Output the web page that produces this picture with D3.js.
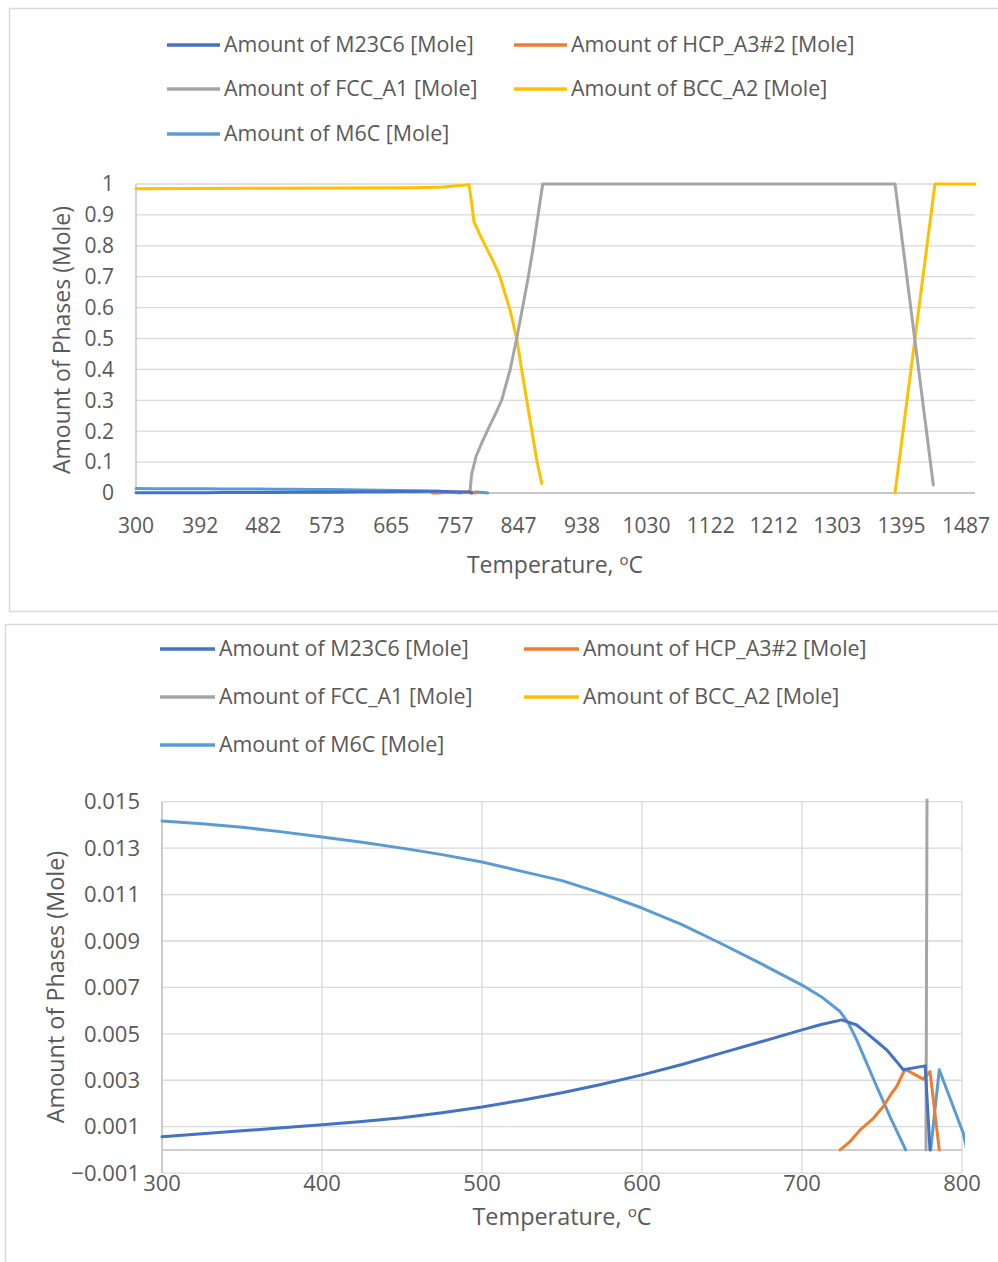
<!DOCTYPE html>
<html>
<head>
<meta charset="utf-8">
<script src="https://cdn.jsdelivr.net/npm/d3@7"></script>
<style>
  body { margin: 0; background: #fff; }
  text { font-family: "Open Sans", "Noto Sans", sans-serif; fill: #595959; }
</style>
</head>
<body>
<div id="chart"></div>
<script>
// series data, [temperature, amount in mole]
var m23c6 = [[300,0.00057],[325,0.00069],[350,0.00082],[375,0.00095],[400,0.00108],[425,0.00122],
    [450,0.00138],[475,0.0016],[500,0.00185],[525,0.00214],[550,0.00246],[575,0.00283],
    [600,0.00323],[625,0.00368],[650,0.00418],[675,0.00467],[700,0.00517],[712,0.0054],
    [724.8,0.0056],[734.2,0.00538],[740.4,0.00503],[746.7,0.00467],[752.9,0.00431],
    [759.2,0.0038],[763.3,0.00345],[777,0.00362],[780,0]];
var hcp = [[723.8,0],[730,0.00036],[736.3,0.00086],[744.6,0.00136],[750.8,0.00187],[756,0.00244],
    [759.2,0.00273],[764.4,0.00348],[775.8,0.00305],[780,0.00337],[785.8,0]];
var fcc = [[777.5,0],[780,0.06],[786.3,0.118],[795,0.165],[805.3,0.215],[815,0.26],[823.1,0.301],
    [835,0.398],[844.5,0.50],[853.1,0.603],[861.1,0.70],[868.3,0.797],[875.4,0.905],[881.7,1],
    [1385.6,1],[1440.4,0.026]];
var bcc = [[300,0.985],[500,0.986],[700,0.988],[740,0.99],[776.3,0.998],[780.2,0.937],[783.4,0.878],
    [792,0.835],[803.9,0.781],[812,0.745],[820.6,0.70],[835,0.592],[844.5,0.50],[851.7,0.398],
    [858.8,0.301],[866,0.204],[873.1,0.107],[880.3,0.031],
    [880.4,null],[1385.5,null],[1385.6,0],[1442.7,1],[1500,1]];
var m6c = [[300,0.01417],[325,0.01405],[350,0.0139],[375,0.0137],[400,0.01348],[425,0.01325],
    [450,0.013],[475,0.01272],[500,0.0124],[525,0.012],[550,0.0116],[575,0.01105],[600,0.01042],
    [625,0.0097],[650,0.00887],[675,0.008],[700,0.0071],[712,0.0066],[723.8,0.00596],
    [729,0.00546],[734.2,0.00474],[746.7,0.00273],[755,0.00143],[764.8,0],[764.9,null],
    [780.3,null],[780.4,0],[785.8,0.00345],[800.8,0.00072],[803,0]];

var seriesNames = ["Amount of M23C6 [Mole]", "Amount of HCP_A3#2 [Mole]", "Amount of FCC_A1 [Mole]",
    "Amount of BCC_A2 [Mole]", "Amount of M6C [Mole]"];
var seriesColors = ["#4472C4", "#ED7D31", "#A5A5A5", "#FFC000", "#5B9BD5"];
var seriesData = [m23c6, hcp, fcc, bcc, m6c];
// draw order so the first series ends up on top like excel
var drawOrder = [4, 3, 2, 1, 0];

var topXTicks = [300, 392, 482, 573, 665, 757, 847, 938, 1030, 1122, 1212, 1303, 1395, 1487];
var topYTicks = [0, 0.1, 0.2, 0.3, 0.4, 0.5, 0.6, 0.7, 0.8, 0.9, 1];
var botXTicks = [300, 400, 500, 600, 700, 800];
var botYTicks = [-0.001, 0.001, 0.003, 0.005, 0.007, 0.009, 0.011, 0.013, 0.015];

var svg = d3.select("#chart").append("svg")
    .attr("width", 998)
    .attr("height", 1262);

// chart frames
svg.append("rect").attr("x", 9.5).attr("y", 8.5).attr("width", 1000).attr("height", 603)
    .attr("fill", "none").attr("stroke", "#D9D9D9").attr("stroke-width", 1.5);
svg.append("rect").attr("x", 5.5).attr("y", 624.5).attr("width", 1000).attr("height", 700)
    .attr("fill", "none").attr("stroke", "#D9D9D9").attr("stroke-width", 1.5);

function drawLegend(g, cfg) {
    seriesNames.forEach(function(name, i) {
        var col = i % 2, row = Math.floor(i / 2);
        var x = cfg.x[col], y = cfg.y[row];
        g.append("line")
            .attr("x1", x).attr("x2", x + cfg.len)
            .attr("y1", y).attr("y2", y)
            .attr("stroke", seriesColors[i]).attr("stroke-width", 3.5);
        g.append("text")
            .attr("x", x + cfg.len + 4).attr("y", y)
            .attr("dy", "0.35em")
            .style("font-size", cfg.fs + "px")
            .text(name);
    });
}

function drawChart(cfg, id) {
    var g = svg.append("g");
    var x = d3.scaleLinear().domain(cfg.xDomain).range([cfg.left, cfg.right]);
    var y = d3.scaleLinear().domain(cfg.yDomain).range([cfg.bottom, cfg.top]);

    // horizontal gridlines
    g.selectAll(".hgrid").data(cfg.yTicks).enter().append("line")
        .attr("x1", cfg.left).attr("x2", cfg.right)
        .attr("y1", d => y(d)).attr("y2", d => y(d))
        .attr("stroke", "#D9D9D9").attr("stroke-width", 1.3);

    if (cfg.vgrid) {
        g.selectAll(".vgrid").data(cfg.xTicks).enter().append("line")
            .attr("x1", d => x(d)).attr("x2", d => x(d))
            .attr("y1", cfg.top).attr("y2", cfg.bottom)
            .attr("stroke", "#D9D9D9").attr("stroke-width", 1.3);
    }

    // axis lines
    g.append("line").attr("x1", cfg.left).attr("x2", cfg.right)
        .attr("y1", y(0)).attr("y2", y(0))
        .attr("stroke", "#BFBFBF").attr("stroke-width", 1.5);
    g.append("line").attr("x1", cfg.left).attr("x2", cfg.left)
        .attr("y1", cfg.top).attr("y2", cfg.bottom)
        .attr("stroke", "#BFBFBF").attr("stroke-width", 1.3);

    // tick labels
    g.selectAll(".ylab").data(cfg.yTicks).enter().append("text")
        .attr("x", cfg.yLabX).attr("y", d => y(d))
        .attr("dy", "0.35em").attr("text-anchor", "end")
        .style("font-size", cfg.tickFs + "px")
        .text(cfg.yFmt);
    g.selectAll(".xlab").data(cfg.xTicks).enter().append("text")
        .attr("x", d => x(d)).attr("y", cfg.xLabY)
        .attr("dy", "0.35em").attr("text-anchor", "middle")
        .style("font-size", cfg.tickFs + "px")
        .text(d => d);

    // axis titles
    g.append("text")
        .attr("transform", `translate(${cfg.yTitleX},${cfg.yTitleY}) rotate(-90)`)
        .attr("text-anchor", "middle").attr("dy", "0.35em")
        .style("font-size", cfg.titleFs + "px")
        .text("Amount of Phases (Mole)");
    var xt = g.append("text")
        .attr("x", cfg.xTitleX).attr("y", cfg.xTitleY)
        .attr("text-anchor", "middle").attr("dy", "0.35em")
        .style("font-size", cfg.titleFs + "px");
    xt.append("tspan").text("Temperature, ");
    xt.append("tspan").attr("dy", -8).style("font-size", (cfg.titleFs * 0.65) + "px").text("o");
    xt.append("tspan").attr("dy", 8).text("C");

    // series lines, clipped to plot area
    svg.append("clipPath").attr("id", id)
        .append("rect")
        .attr("x", cfg.left - 3).attr("y", cfg.top - 3)
        .attr("width", cfg.right - cfg.left + 6).attr("height", cfg.bottom - cfg.top + 6);
    var line = d3.line()
        .defined(d => d[1] !== null)
        .x(d => x(d[0]))
        .y(d => y(d[1]));
    var lines = g.append("g").attr("clip-path", `url(#${id})`);
    drawOrder.forEach(function(i) {
        lines.append("path")
            .datum(seriesData[i])
            .attr("d", line)
            .attr("fill", "none")
            .attr("stroke", seriesColors[i])
            .attr("stroke-width", 3)
            .attr("stroke-linejoin", "round")
            .attr("stroke-linecap", "round");
    });

    drawLegend(g, cfg.legend);
}

// top chart, full range
drawChart({
    xDomain: [300, 1500], yDomain: [0, 1],
    left: 136, right: 975, top: 184, bottom: 493,
    xTicks: topXTicks, yTicks: topYTicks, vgrid: false,
    yFmt: d => d3.format("")(+d.toFixed(1)),
    yLabX: 114, xLabY: 526, tickFs: 21, titleFs: 23,
    yTitleX: 62, yTitleY: 340, xTitleX: 555, xTitleY: 565,
    legend: {x: [167, 514], y: [45, 89, 134], len: 53, fs: 21.4}
}, "clipTop");

// bottom chart, zoom on small phases
drawChart({
    xDomain: [300, 800], yDomain: [-0.001, 0.015],
    left: 162, right: 962, top: 801.7, bottom: 1173.1,
    xTicks: botXTicks, yTicks: botYTicks, vgrid: true,
    yFmt: d => d3.format(".3f")(d),
    yLabX: 140, xLabY: 1183, tickFs: 22, titleFs: 23.4,
    yTitleX: 56, yTitleY: 987, xTitleX: 562, xTitleY: 1217,
    legend: {x: [160, 524], y: [649, 697, 745], len: 55, fs: 21.4}
}, "clipBot");
</script>
</body>
</html>
